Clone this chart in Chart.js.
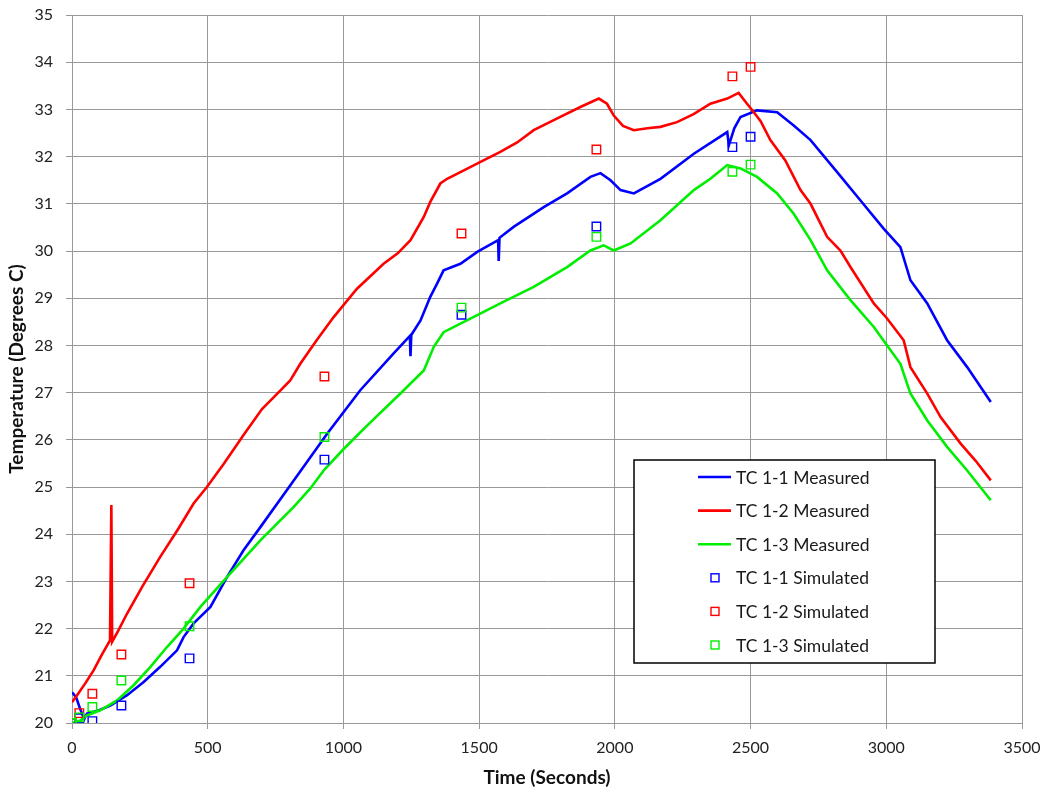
<!DOCTYPE html>
<html>
<head>
<meta charset="utf-8">
<title>TC 1 Temperature</title>
<script src="https://cdn.jsdelivr.net/npm/chart.js@4.4.1/dist/chart.umd.min.js"></script>
<style>
    html, body { margin: 0; padding: 0; background: #fff; }
    #wrap { width: 1046px; height: 789px; position: relative; }
</style>
</head>
<body>
<div id="wrap"><canvas id="mainChart"></canvas></div>
<script>
// Measured series (time in seconds, temperature in deg C)
const tc11Time = [0, 15, 30, 45, 55, 70, 100, 141, 203, 264, 325, 387, 411, 448, 510, 571, 632, 694, 817, 940, 1062, 1185, 1245, 1247, 1250, 1284, 1320, 1345, 1369, 1431, 1493, 1570, 1572, 1575, 1627, 1738, 1824, 1910, 1947, 1984, 2021, 2070, 2168, 2291, 2414, 2420, 2440, 2463, 2524, 2598, 2659, 2721, 2819, 2905, 2991, 3052, 3089, 3151, 3224, 3298, 3385];
const tc11Temp = [20.65, 20.55, 20.3, 20.08, 20.2, 20.22, 20.27, 20.37, 20.59, 20.87, 21.19, 21.54, 21.82, 22.11, 22.46, 23.09, 23.66, 24.15, 25.14, 26.13, 27.05, 27.83, 28.2, 27.77, 28.22, 28.53, 29.03, 29.31, 29.59, 29.73, 29.98, 30.23, 29.79, 30.28, 30.51, 30.93, 31.22, 31.57, 31.65, 31.5, 31.29, 31.22, 31.53, 32.06, 32.52, 32.24, 32.6, 32.84, 32.98, 32.94, 32.66, 32.35, 31.67, 31.07, 30.47, 30.08, 29.38, 28.89, 28.11, 27.54, 26.8];

const tc12Time = [0, 20, 50, 80, 110, 140, 145, 148, 170, 203, 260, 325, 390, 448, 497, 560, 632, 700, 760, 804, 841, 900, 964, 1050, 1148, 1200, 1247, 1296, 1320, 1357, 1382, 1431, 1505, 1578, 1640, 1701, 1799, 1873, 1941, 1971, 1996, 2030, 2070, 2120, 2168, 2229, 2290, 2352, 2414, 2456, 2487, 2512, 2537, 2573, 2628, 2684, 2721, 2782, 2831, 2868, 2954, 3003, 3064, 3089, 3151, 3200, 3274, 3330, 3385];
const tc12Temp = [20.44, 20.6, 20.85, 21.12, 21.45, 21.75, 24.62, 21.72, 21.95, 22.32, 22.9, 23.52, 24.1, 24.65, 25.0, 25.5, 26.1, 26.65, 27.0, 27.26, 27.61, 28.1, 28.6, 29.2, 29.73, 29.95, 30.23, 30.72, 31.04, 31.43, 31.53, 31.67, 31.89, 32.1, 32.3, 32.56, 32.84, 33.05, 33.23, 33.12, 32.87, 32.65, 32.56, 32.6, 32.63, 32.73, 32.9, 33.12, 33.23, 33.35, 33.12, 32.94, 32.75, 32.35, 31.92, 31.29, 31.0, 30.3, 30.01, 29.66, 28.89, 28.57, 28.11, 27.54, 26.98, 26.48, 25.92, 25.55, 25.14];

const tc13Time = [0, 30, 55, 104, 166, 227, 289, 350, 411, 473, 571, 694, 817, 878, 930, 1000, 1087, 1210, 1296, 1333, 1369, 1431, 1493, 1578, 1701, 1824, 1910, 1959, 1996, 2058, 2168, 2291, 2352, 2414, 2463, 2524, 2598, 2659, 2721, 2782, 2868, 2954, 3003, 3052, 3089, 3151, 3224, 3298, 3385];
const tc13Temp = [20.0, 20.05, 20.16, 20.27, 20.48, 20.8, 21.19, 21.61, 22.0, 22.46, 23.09, 23.87, 24.58, 24.97, 25.37, 25.8, 26.3, 26.98, 27.47, 27.97, 28.28, 28.46, 28.64, 28.89, 29.24, 29.66, 30.01, 30.12, 30.01, 30.16, 30.65, 31.29, 31.53, 31.82, 31.75, 31.57, 31.22, 30.79, 30.23, 29.59, 28.96, 28.39, 28.0, 27.61, 26.98, 26.41, 25.85, 25.35, 24.72];

// Simulated values (same time steps for all three)
const simTime = [0, 27, 75, 182, 433, 930, 1435, 1932, 2433, 2500];
const sim11 = [20.0, 20.1, 20.04, 20.37, 21.37, 25.58, 28.65, 30.52, 32.2, 32.42];
const sim12 = [20.0, 20.21, 20.62, 21.45, 22.96, 27.34, 30.37, 32.15, 33.7, 33.9];
const sim13 = [20.0, 20.12, 20.34, 20.9, 22.05, 26.06, 28.8, 30.3, 31.68, 31.83];

const labels = ['TC 1-1 Measured', 'TC 1-2 Measured', 'TC 1-3 Measured',
                'TC 1-1 Simulated', 'TC 1-2 Simulated', 'TC 1-3 Simulated'];
const colors = ['#0000ff', '#ff0000', '#00ee00', '#0000ff', '#ff0000', '#00ee00'];

const xTicks = [0, 500, 1000, 1500, 2000, 2500, 3000, 3500];
const yMin = 20, yMax = 35;

const toPoints = (xs, ys) => xs.map((x, i) => ({ x, y: ys[i] }));

const series = [
    toPoints(tc11Time, tc11Temp),
    toPoints(tc12Time, tc12Temp),
    toPoints(tc13Time, tc13Temp),
    toPoints(simTime, sim11),
    toPoints(simTime, sim12),
    toPoints(simTime, sim13)
];

const datasets = series.map((data, i) => {
    const measured = i < 3;
    return {
        label: labels[i],
        data,
        order: 5 - i,
        showLine: measured,
        borderColor: colors[i],
        backgroundColor: measured ? colors[i] : 'rgba(0,0,0,0)',
        borderWidth: measured ? 2.6 : 1.4,
        tension: 0,
        pointRadius: measured ? 0 : 6,
        pointStyle: 'rect',
        pointBorderColor: colors[i],
        pointBackgroundColor: 'rgba(0,0,0,0)',
        pointBorderWidth: 1.4
    };
});

// Legend box drawn inside the plot area
const boxLegend = {
    id: 'boxLegend',
    afterDraw(chart) {
        const c = chart.ctx;
        const bx = 634, by = 460, bw = 301, bh = 203;
        c.save();
        c.fillStyle = '#ffffff';
        c.fillRect(bx, by, bw, bh);
        c.strokeStyle = '#000000';
        c.lineWidth = 1.5;
        c.strokeRect(bx, by, bw, bh);
        c.font = '17.5px Lato, "Open Sans", sans-serif';
        c.textBaseline = 'middle';
        c.textAlign = 'left';
        labels.forEach((lab, i) => {
            const y = 477 + i * 33.6;
            if (i < 3) {
                c.strokeStyle = colors[i];
                c.lineWidth = 2.6;
                c.beginPath();
                c.moveTo(698, y);
                c.lineTo(731, y);
                c.stroke();
            } else {
                c.strokeStyle = colors[i];
                c.lineWidth = 1.4;
                c.strokeRect(711, y - 4, 8, 8);
            }
            c.fillStyle = '#1a1a1a';
            c.fillText(lab, 736, y + 1);
        });
        c.restore();
    }
};

const gridColor = '#999999';
const fontFamily = 'Lato, "Open Sans", sans-serif';
const tickFont = { family: fontFamily, size: 16 };

const ctx = document.getElementById('mainChart').getContext('2d');
const mainChart = new Chart(ctx, {
    type: 'scatter',
    data: { datasets },
    plugins: [boxLegend],
    options: {
        responsive: true,
        maintainAspectRatio: false,
        animation: false,
        events: [],
        layout: { padding: { top: 15, right: 24, bottom: 0, left: 0 } },
        plugins: {
            legend: { display: false },
            tooltip: { enabled: false }
        },
        scales: {
            x: {
                type: 'linear',
                min: 0,
                max: 3500,
                afterBuildTicks: scale => { scale.ticks = xTicks.map(v => ({ value: v })); },
                afterFit: scale => {
                    scale.height = 66;
                    scale.paddingLeft = 0;
                    scale.paddingRight = 0;
                },
                grid: { color: gridColor, lineWidth: 1, tickLength: 6, drawTicks: true },
                border: { color: gridColor, width: 1 },
                ticks: {
                    color: '#222', font: tickFont, padding: 9, maxRotation: 0,
                    callback: v => String(v)
                },
                title: {
                    display: true,
                    text: 'Time (Seconds)',
                    color: '#111',
                    font: { family: fontFamily, size: 19, weight: 'bold' },
                    padding: { top: 0, bottom: 0 }
                }
            },
            y: {
                min: yMin,
                max: yMax,
                afterFit: scale => {
                    scale.width = 72;
                    scale.paddingTop = 0;
                    scale.paddingBottom = 0;
                },
                grid: { color: gridColor, lineWidth: 1, tickLength: 6, drawTicks: true },
                border: { color: gridColor, width: 1 },
                ticks: { stepSize: 1, color: '#222', font: tickFont, padding: 13 },
                title: {
                    display: true,
                    text: 'Temperature (Degrees C)',
                    color: '#111',
                    font: { family: fontFamily, size: 19, weight: 'bold' },
                    padding: { top: 5, bottom: 0 }
                }
            }
        }
    }
});
</script>
</body>
</html>
